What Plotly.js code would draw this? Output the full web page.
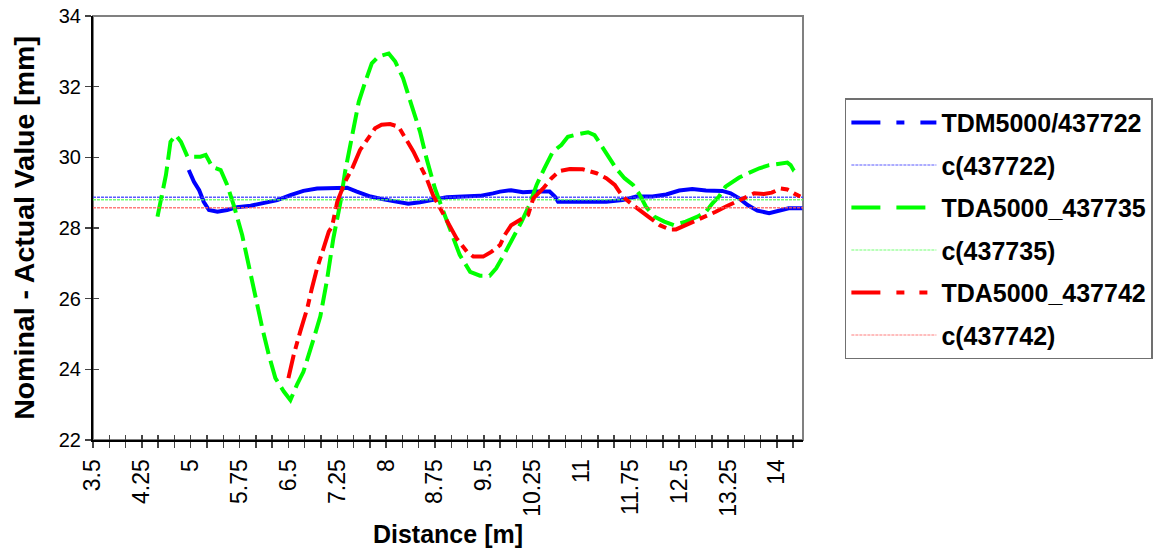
<!DOCTYPE html>
<html>
<head>
<meta charset="utf-8">
<script src="https://cdn.plot.ly/plotly-3.0.1.min.js"></script>
<style>html,body{margin:0;padding:0;background:#fff;}#chart{width:1153px;height:552px;}</style>
</head>
<body>
<div id="chart"></div>
<script>
// ---- data ----
const tdmDist = [4.97,5.05,5.13,5.20,5.28,5.41,5.56,5.71,5.92,6.12,6.33,6.53,6.73,6.94,7.14,7.40,7.55,7.76,7.96,8.16,8.34,8.52,8.72,8.93,9.18,9.44,9.64,9.75,9.92,10.10,10.31,10.51,10.59,10.64,10.87,11.12,11.38,11.63,11.84,12.09,12.30,12.50,12.70,12.91,13.16,13.29,13.42,13.55,13.70,13.88,14.03,14.18,14.39];
const tdmVal  = [29.64,29.31,29.07,28.74,28.51,28.46,28.51,28.59,28.63,28.70,28.79,28.93,29.05,29.12,29.14,29.14,29.03,28.89,28.81,28.74,28.69,28.73,28.81,28.87,28.89,28.91,28.98,29.03,29.07,29.01,29.03,29.03,28.89,28.74,28.74,28.74,28.74,28.79,28.89,28.89,28.95,29.06,29.10,29.06,29.05,28.98,28.84,28.65,28.49,28.42,28.49,28.56,28.56];

const tda735Dist = [4.49,4.62,4.69,4.77,4.85,4.95,5.15,5.23,5.33,5.46,5.56,5.66,5.79,5.89,5.99,6.10,6.20,6.30,6.43,6.53,6.63,6.73,6.89,6.99,7.09,7.19,7.30,7.37,7.48,7.58,7.68,7.78,7.88,8.04,8.14,8.26,8.39,8.52,8.62,8.75,8.88,9.01,9.13,9.29,9.44,9.59,9.69,9.82,9.95,10.08,10.20,10.31,10.43,10.56,10.69,10.79,10.94,11.10,11.20,11.30,11.40,11.53,11.66,11.79,11.89,11.99,12.12,12.27,12.42,12.60,12.78,12.91,13.01,13.11,13.21,13.32,13.42,13.57,13.73,13.88,14.03,14.16,14.21,14.26,14.34];
const tda735Val  = [28.32,29.50,30.44,30.63,30.44,30.02,30.02,30.07,29.73,29.64,29.22,28.65,27.80,26.95,26.01,25.16,24.40,23.75,23.37,23.13,23.56,23.93,24.88,25.50,26.50,27.71,28.74,29.59,30.63,31.57,32.14,32.66,32.85,32.94,32.71,32.24,31.48,30.73,29.97,29.12,28.46,27.80,27.24,26.76,26.65,26.65,26.86,27.28,27.71,28.18,28.65,29.22,29.69,30.16,30.35,30.58,30.65,30.71,30.63,30.35,30.02,29.69,29.41,29.22,28.95,28.60,28.32,28.18,28.08,28.18,28.32,28.46,28.70,28.89,29.17,29.31,29.43,29.56,29.69,29.78,29.83,29.85,29.78,29.62,29.55];

const tda742Dist = [6.50,6.58,6.68,6.79,6.86,6.94,7.04,7.12,7.17,7.25,7.37,7.48,7.60,7.73,7.83,7.93,8.06,8.19,8.29,8.42,8.52,8.62,8.72,8.83,8.95,9.08,9.24,9.34,9.49,9.62,9.75,9.82,9.92,10.05,10.18,10.26,10.41,10.54,10.66,10.82,11.02,11.23,11.38,11.51,11.63,11.79,11.94,12.04,12.20,12.35,12.45,12.60,12.76,12.91,13.06,13.21,13.37,13.52,13.65,13.80,13.92,14.06,14.16,14.26,14.36];
const tda742Val  = [23.75,24.40,25.06,25.73,26.29,26.86,27.43,27.90,28.04,28.74,29.31,29.69,30.21,30.54,30.82,30.92,30.94,30.87,30.58,30.16,29.78,29.41,28.93,28.56,28.13,27.71,27.33,27.19,27.19,27.33,27.52,27.80,28.08,28.23,28.37,28.84,29.12,29.41,29.61,29.67,29.66,29.55,29.41,29.22,28.89,28.65,28.46,28.30,28.08,27.96,27.96,28.08,28.21,28.32,28.46,28.60,28.74,28.89,28.98,28.96,29.00,29.12,29.09,28.98,28.89];

// constant (mean) lines
const cDist = [3.5, 14.4];
const c437722 = [28.87, 28.87];
const c437735 = [28.80, 28.80];
const c437742 = [28.575, 28.575];

const seriesNames = ['TDM5000/437722','c(437722)','TDA5000_437735','c(437735)','TDA5000_437742','c(437742)'];
const xTitle = 'Distance [m]';
const yTitle = 'Nominal - Actual Value [mm]';

// ---- styles ----
const BLUE = '#0000ff', GREEN = '#00ff00', RED = '#ff0000';
const styles = [
  {color: BLUE,  width: 4,   dash: '29px,16px,8px,16px', plotDash: 'solid'},
  {color: 'rgba(60,60,255,0.85)', width: 1.5, dash: '3px,1px', plotDash: '3px,1px'},
  {color: GREEN, width: 4,   dash: '29px,16px', plotDash: '22px,7px'},
  {color: 'rgba(80,255,80,0.8)', width: 1.5, dash: '3px,1px', plotDash: '3px,1px'},
  {color: RED,   width: 4,   dash: '29px,16px,8px,15px,8px,16px', plotDash: '24px,6px,8px,6px'},
  {color: 'rgba(255,90,90,0.8)', width: 1.5, dash: '3px,1px', plotDash: '3px,1px'}
];
const xs = [tdmDist, cDist, tda735Dist, cDist, tda742Dist, cDist];
const ys = [tdmVal, c437722, tda735Val, c437735, tda742Val, c437742];

const traces = [];
for (let i = 0; i < 6; i++) {
  traces.push({
    type: 'scatter', mode: 'lines', x: xs[i], y: ys[i], name: seriesNames[i],
    line: {color: styles[i].color, width: styles[i].width, dash: styles[i].plotDash},
    showlegend: false, hoverinfo: 'skip'
  });
}
// legend entries
for (let i = 0; i < 6; i++) {
  traces.push({
    type: 'scatter', mode: 'lines', x: [null], y: [null], name: seriesNames[i],
    legendgroup: 'g' + i,
    line: {color: styles[i].color, width: styles[i].width === 4 ? 4 : 1, dash: styles[i].dash},
    hoverinfo: 'skip'
  });
}

const narrow = '"Liberation Sans Narrow", "Arial Narrow", "Liberation Sans", Arial, sans-serif';
const sans = '"Liberation Sans", Arial, sans-serif';

const layout = {
  width: 1153, height: 552,
  margin: {l: 93, r: 350, t: 16, b: 112, autoexpand: false},
  paper_bgcolor: '#ffffff', plot_bgcolor: '#ffffff',
  showlegend: true,
  xaxis: {
    range: [3.5, 14.4], tick0: 3.5, dtick: 0.75, tickmode: 'linear',
    tickangle: -90, ticks: 'outside', ticklen: 6, tickwidth: 1.5, tickcolor: '#444',
    minor: {tick0: 3.5, dtick: 0.25, ticks: 'outside', ticklen: 6, tickwidth: 1.5, tickcolor: '#444', showgrid: false},
    showline: true, linecolor: '#000', linewidth: 2, showgrid: false, zeroline: false,
    tickfont: {family: sans, size: 23, color: '#000'},
    ticklabelstandoff: 2,
    title: {text: xTitle, font: {family: sans, size: 25, color: '#000', weight: 'bold'}, standoff: 10}
  },
  xaxis2: {
    overlaying: 'x', matches: 'x', range: [3.5, 14.4], tick0: 3.5, dtick: 0.25, tickmode: 'linear',
    ticks: 'inside', ticklen: 5, tickwidth: 1.5, tickcolor: '#444', showticklabels: false,
    showline: false, showgrid: false, zeroline: false
  },
  yaxis: {
    range: [22, 34], dtick: 2, tick0: 22, tickmode: 'linear',
    ticks: 'outside', ticklen: 6, tickwidth: 1.5, tickcolor: '#444',
    showline: true, linecolor: '#000', linewidth: 2, showgrid: false, zeroline: false,
    tickfont: {family: narrow, size: 20, color: '#000'},
    title: {text: yTitle, font: {family: sans, size: 28.5, color: '#000', weight: 'bold'}, standoff: 16}
  },
  yaxis2: {
    overlaying: 'y', range: [22, 34], dtick: 2, tick0: 22, tickmode: 'linear', side: 'left',
    ticks: 'inside', ticklen: 6, tickwidth: 1.5, tickcolor: '#444', showticklabels: false,
    showline: false, showgrid: false, zeroline: false
  },
  shapes: [{type: 'rect', xref: 'paper', yref: 'paper', x0: 0, x1: 1, y0: 0, y1: 1,
            line: {color: '#808080', width: 2}, layer: 'below'}],
  legend: {
    x: 1.059, y: 0.806, xanchor: 'left', yanchor: 'top',
    bordercolor: '#707070', borderwidth: 1.5, bgcolor: '#ffffff',
    font: {family: sans, size: 25, color: '#000', weight: 'bold'},
    tracegroupgap: 7, itemwidth: 85, traceorder: 'grouped'
  }
};

// dummy traces to activate overlay axes
traces.push({type: 'scatter', mode: 'lines', x: [null], y: [null], xaxis: 'x2', yaxis: 'y2', showlegend: false, hoverinfo: 'skip'});

Plotly.newPlot('chart', traces, layout, {displayModeBar: false, staticPlot: true});
</script>
</body>
</html>
